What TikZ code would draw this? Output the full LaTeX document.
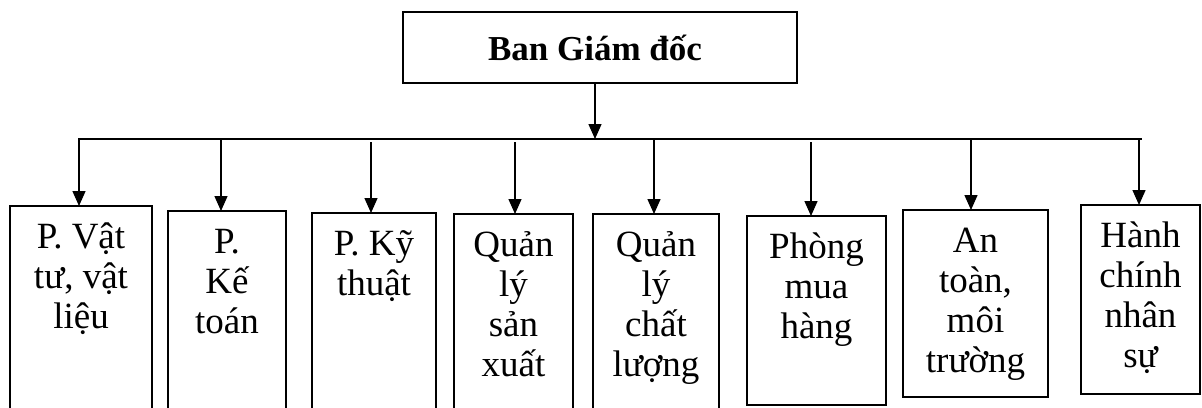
\documentclass[tikz,border=0pt]{standalone}
\usepackage{fontspec}
\setmainfont{Liberation Serif}
\usetikzlibrary{arrows.meta}
\tikzset{
  ln/.style={line width=1.4pt, line cap=rect},
  arr/.style={line width=1.4pt, -{Triangle[length=15pt,width=13pt]}},
  dept/.style={draw, line width=1.4pt, inner sep=0pt, outer sep=0pt, anchor=north west,
    font=\fontsize{37}{40}\selectfont, text height=42pt},
  topbox/.style={draw, line width=1.4pt, inner sep=0pt, outer sep=0pt, anchor=north west,
    font=\fontsize{35}{40}\selectfont\bfseries, text height=48pt, text depth=23pt, minimum width=394pt}
}
\newcommand{\dtext}[2]{\parbox[t]{#1}{\centering #2}}
\begin{document}
\begin{tikzpicture}[x=1pt,y=-1pt]
\useasboundingbox (0,0) rectangle (1202,407);
\clip (0,0) rectangle (1202,407);
\fill[white] (0,0) rectangle (1202,407);

% top box
\node[topbox] (top) at (403,12) {\makebox[394pt]{\hspace{-10pt}Ban Giám đốc}};

% department boxes
\node[dept, text depth=190pt] (p1) at (10,206)  {\dtext{142pt}{P. Vật\\tư, vật\\liệu}};
\node[dept, text depth=190pt] (p2) at (168,211) {\dtext{118pt}{P.\\Kế\\toán}};
\node[dept, text depth=190pt] (p3) at (312,213) {\dtext{124pt}{P. Kỹ\\thuật}};
\node[dept, text depth=190pt] (p4) at (454,214) {\dtext{119pt}{Quản\\lý\\sản\\xuất}};
\node[dept, text depth=190pt] (p5) at (593,214) {\dtext{126pt}{Quản\\lý\\chất\\lượng}};
\node[dept, text depth=147pt] (p6) at (747,216) {\dtext{139pt}{Phòng\\mua\\hàng}};
\node[dept, text depth=145pt] (p7) at (903,210) {\dtext{145pt}{An\\toàn,\\môi\\trường}};
\node[dept, text depth=147pt] (p8) at (1081,205) {\dtext{119pt}{Hành\\chính\\nhân\\sự}};

% bus
\coordinate (m)  at (595,139);
\coordinate (bL) at (79,139);
\coordinate (bR) at (1141,139);
\draw[ln] (bL) -- (bR);
\draw[arr] (top.south -| m) -- (m);

% drops
\coordinate (d1) at (79,139);
\coordinate (d2) at (221,139);
\coordinate (d3) at (371,142);
\coordinate (d4) at (515,142);
\coordinate (d5) at (654,139);
\coordinate (d6) at (811,142);
\coordinate (d7) at (971,140);
\coordinate (d8) at (1139,139);
\foreach \i in {1,...,8}{
  \draw[arr] (d\i) -- (d\i |- p\i.north);
}
\end{tikzpicture}
\end{document}
